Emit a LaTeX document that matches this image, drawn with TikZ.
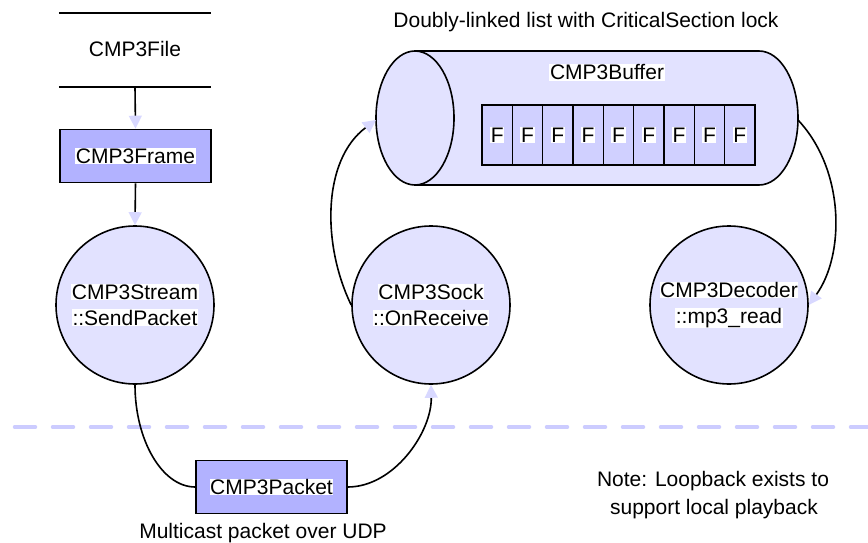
\documentclass[tikz,border=0pt]{standalone}
\usepackage{fontspec}
\setmainfont{Liberation Sans}
\usetikzlibrary{arrows.meta}

\definecolor{boxfill}{RGB}{178,178,255}
\definecolor{circfill}{RGB}{226,226,255}
\definecolor{cellfill}{RGB}{208,208,255}
\definecolor{tipfill}{RGB}{216,216,255}
\definecolor{sepline}{RGB}{204,204,255}

% white backing behind a label line
\newcommand\wbox[1]{{\setlength{\fboxsep}{0.6pt}\colorbox{white}{#1}}}

\begin{document}
\begin{tikzpicture}[x=1pt,y=-1pt,
  every node/.style={font=\fontsize{21}{26}\selectfont, inner sep=0pt},
  conn/.style={line width=1.6pt, draw=black},
  arr/.style={conn, -{Triangle[length=13pt,width=13pt,color=tipfill]}},
  store/.style={minimum width=152pt, minimum height=74pt},
  procbox/.style={draw, line width=1.6pt, fill=boxfill, minimum width=151pt, minimum height=53pt},
  proc/.style={circle, draw, line width=1.6pt, fill=circfill, minimum size=158pt, align=center},
  fcell/.style={draw, line width=1.4pt, fill=cellfill, minimum width=30.33pt, minimum height=60pt},
  caption/.style={anchor=base}
]
\useasboundingbox (0,0) rectangle (868,543);

% network boundary
\draw[sepline, line width=3.5pt, line cap=round, dash pattern=on 21pt off 17pt] (14.5,427) -- (868,427);

% data store: CMP3File
\node[store] (file) at (135,50) {\raisebox{3pt}{CMP3File}};
\draw[line width=1.6pt] (file.north west) -- (file.north east) (file.south west) -- (file.south east);

\node[procbox] (frame) at (135.5,156) {\wbox{CMP3Frame}};
\node[proc] (stream) at (135,305) {\wbox{CMP3Stream}\\\wbox{::SendPacket}};
\node[proc] (sock) at (431,305) {\wbox{CMP3Sock}\\\wbox{::OnReceive}};
\node[proc] (decoder) at (729,305) {\wbox{CMP3Decoder}\\\wbox{::mp3\_read}};
\node[procbox] (packet) at (271.5,487) {\wbox{CMP3Packet}};

% buffer drawn as a horizontal cylinder
\filldraw[line width=1.6pt, fill=circfill] (415,51) -- (759,51)
  .. controls (780.5,51) and (798,81) .. (798,118)
  .. controls (798,155) and (780.5,185) .. (759,185) -- (415,185) -- cycle;
\filldraw[line width=1.6pt, fill=circfill] (415,118) ellipse [x radius=39pt, y radius=67pt];
\coordinate (bufL) at (376,120);
\coordinate (bufR) at (798,120);
\node[caption] (bufname) at (607,80) {\wbox{CMP3Buffer}};
\foreach \i in {1,...,9}
  \node[fcell] (f\i) at ({482+30.33*(\i-0.5)},135) {\wbox{F}};

% captions
\node[caption] (heading) at (586,27.5) {Doubly-linked list with CriticalSection lock};
\node[caption] (udp) at (263,538) {Multicast packet over UDP};
\node[caption] (note1) at (713,486.5) {Note: Loopback exists to};
\node[caption] (note2) at (714,514) {support local playback};

% flow
\draw[arr] (file.south) -- (frame.north);
\draw[arr] (frame.south) -- (stream.north);
\draw[conn] (stream.south) .. controls (135,440) and (162,487) .. (packet.west);
\draw[arr] (packet.east) .. controls (394,487) and (432,432) .. (sock.south);
\draw[arr] (sock.west) .. controls (322,245) and (322,160) .. (bufL);
\draw[arr] (bufR) .. controls (845,170) and (845,255) .. (decoder.east);
\end{tikzpicture}
\end{document}
